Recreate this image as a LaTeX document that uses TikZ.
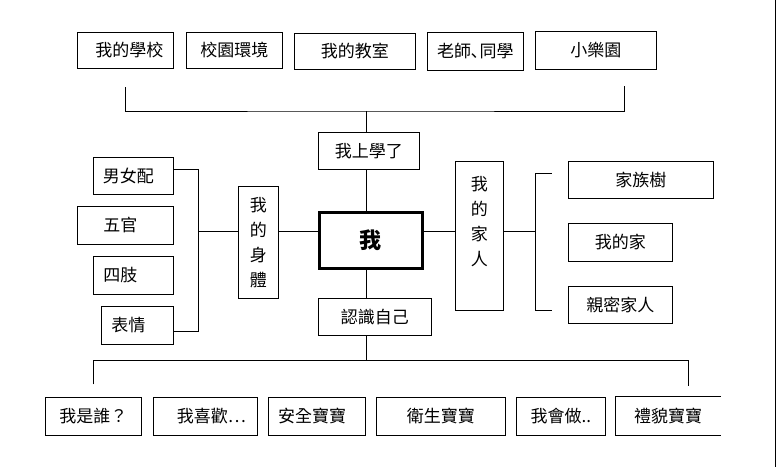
\documentclass[tikz,border=0pt]{standalone}
\usepackage{fontspec}
\setmainfont{Noto Sans CJK TC}
\usetikzlibrary{positioning}

\begin{document}
\begin{tikzpicture}[x=1pt, y=-1pt,
  item/.style={
    rectangle,
    draw,
    line width=0.9pt,
    inner sep=0pt,
    font=\fontsize{17}{20}\selectfont
  },
  core/.style={
    rectangle,
    draw,
    line width=3pt,
    inner sep=0pt,
    font=\fontsize{22}{24}\selectfont\bfseries
  },
  column/.style={
    item,
    align=center,
    font=\fontsize{17}{25}\selectfont
  },
  link/.style={line width=0.9pt}
]
\useasboundingbox (0,0) rectangle (776,467);

% top row
\node[item, minimum width=96, minimum height=36] (school) at (125.3,50.3) {\hspace*{8pt}我的學校};
\node[item, minimum width=96, minimum height=36] (campus) at (234.3,50.3) {校園環境};
\node[item, minimum width=121, minimum height=36] (classroom) at (354.8,51) {我的教室};
\node[item, minimum width=96, minimum height=38] (teachers) at (475.3,51.3) {老師､同學};
\node[item, minimum width=121, minimum height=38] (park) at (595.8,50.5) {小樂園};

% centre
\node[item, minimum width=101, minimum height=37] (goschool) at (368.8,150.8) {我上學了};
\node[core, minimum width=103.3, minimum height=56] (me) at (370.85,240.2) {我};
\node[item, minimum width=113, minimum height=37] (knowme) at (374.8,316.8) {認識自己};
\node[column, minimum width=40, minimum height=112] (body) at (258.3,242.3) {我\\的\\身\\體};
\node[column, minimum width=48, minimum height=149, text depth=30pt] (family) at (479.3,235.8) {我\\的\\家\\人};

% left side
\node[item, minimum width=80, minimum height=37] (gender) at (133.3,175.8) {男女配\hspace*{10pt}};
\node[item, minimum width=96, minimum height=38] (senses) at (125.3,225.3) {五官\hspace*{10pt}};
\node[item, minimum width=80, minimum height=38] (limbs) at (133.3,275.3) {四肢\hspace*{26pt}};
\node[item, minimum width=72, minimum height=38] (faces) at (137.3,325.3) {表情\hspace*{18pt}};

% right side
\node[item, minimum width=145, minimum height=37] (tree) at (640.8,179.8) {家族樹};
\node[item, minimum width=104, minimum height=38] (home) at (620.3,242.3) {我的家};
\node[item, minimum width=104, minimum height=37] (kin) at (620.3,304.7) {親密家人};

% bottom row
\node[item, minimum width=96, minimum height=38] (who) at (93.3,416.3) {我是誰？};
\node[item, minimum width=104, minimum height=38] (like) at (205.3,416.3) {\hspace*{12pt}我喜歡…};
\node[item, minimum width=97.4, minimum height=38] (safe) at (317,416.3) {安全寶寶\hspace*{10pt}};
\node[item, minimum width=129, minimum height=38] (clean) at (440.8,416.3) {衛生寶寶};
\node[item, minimum width=89, minimum height=38] (cando) at (560.8,416.3) {我會做..};
\node[item, draw=none, minimum width=103.7, minimum height=38] (polite) at (668.2,416.3) {禮貌寶寶};
\draw[link] (polite.north east) -- (polite.north west) -- (polite.south west) -- (polite.south east);

% bracket points
\coordinate (topL) at (125.3,87.3);
\coordinate (topR) at (624.7,86);
\coordinate (topbar) at (366.7,111);
\coordinate (botbar) at (366.7,360.3);
\coordinate (botL) at (93.3,384.3);
\coordinate (botR) at (688.3,385.7);
\coordinate (spine) at (0,231);
\coordinate (lt) at (198.7,169.3);
\coordinate (lb) at (198.7,331.3);
\coordinate (rt) at (535.3,173.3);
\coordinate (rb) at (535.3,310.3);
\coordinate (edgeT) at (775,0);
\coordinate (edgeB) at (775,467);

% connectors
\draw[link] (topL) |- (topbar) -| (topR);
\draw[link] (topbar) -- (topbar |- goschool.north);
\draw[link] (topbar |- goschool.south) -- (topbar |- me.north);
\draw[link] (topbar |- me.south) -- (topbar |- knowme.north);
\draw[link] (topbar |- knowme.south) -- (botbar);
\draw[link] (botL) |- (botbar) -| (botR);

\draw[link] (gender.east |- lt) -- (lt) -- (lb) -- (faces.east |- lb);
\draw[link] (lt |- spine) -- (body.west |- spine);
\draw[link] (body.east |- spine) -- (me.west |- spine);
\draw[link] (me.east |- spine) -- (family.west |- spine);
\draw[link] (family.east |- spine) -- (rt |- spine);
\draw[link] ([xshift=16.4pt]rt) -- (rt) -- (rb) -- ([xshift=16.4pt]rb);

\draw[link] (edgeT) -- (edgeB);

\end{tikzpicture}
\end{document}
